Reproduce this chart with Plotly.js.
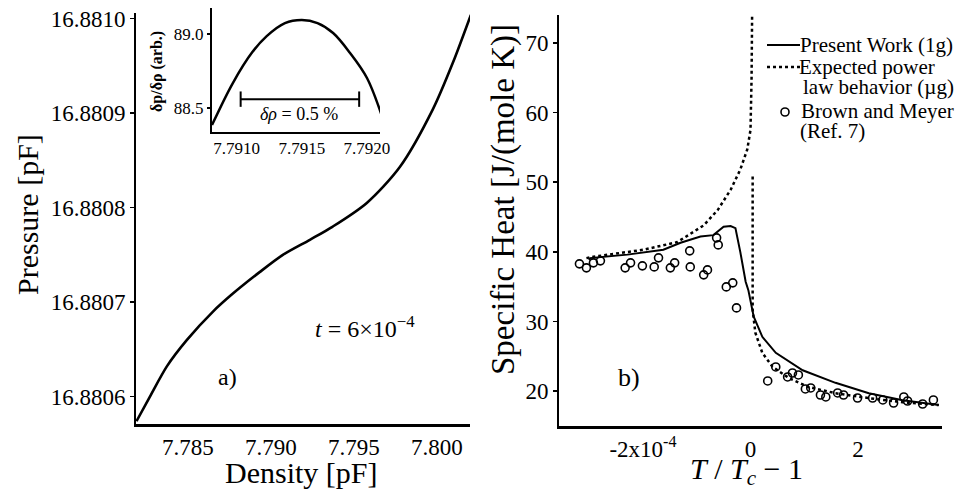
<!DOCTYPE html>
<html>
<head>
<meta charset="utf-8">
<script src="https://cdn.plot.ly/plotly-3.0.1.min.js"></script>
<style>html,body{margin:0;padding:0;background:#fff;}#chart{width:959px;height:493px;}</style>
</head>
<body>
<div id="chart"></div>
<script>
// ---- Panel a): pressure vs density isotherm ----
const densityX = [7.78190, 7.78271, 7.78373, 7.78494, 7.78651, 7.78771, 7.78934, 7.79072, 7.79235, 7.79373, 7.79578, 7.79777, 7.79976, 7.80096, 7.80205];
const pressureY = [16.880574, 16.880600, 16.880632, 16.880660, 16.880690, 16.880709, 16.880732, 16.880750, 16.880766, 16.880780, 16.880805, 16.880843, 16.880904, 16.880953, 16.881004];
const pressureTicks = [16.8806, 16.8807, 16.8808, 16.8809, 16.8810];
const densityTicks = [7.785, 7.790, 7.795, 7.800];

// ---- Inset: dp/drho ----
const insetX = [7.79081, 7.79097, 7.79112, 7.79123, 7.79137, 7.79150, 7.79162, 7.79174, 7.79187, 7.79200, 7.79212];
const insetY = [88.385, 88.669, 88.878, 88.986, 89.074, 89.095, 89.074, 89.007, 88.872, 88.703, 88.432];
const insetErrX = [7.79103, 7.79194];
const insetErrY = [88.56, 88.56];
const insetXTicks = [7.7910, 7.7915, 7.7920];
const insetYTicks = [88.5, 89.0];

// ---- Panel b): specific heat (x in units of 1e-4) ----
const presentX = [-3.00, -2.98, -2.29, -1.62, -1.30, -0.93, -0.69, -0.50, -0.37, -0.28, -0.19, -0.09, -0.04, 0.06, 0.22, 0.47, 0.97, 1.58, 2.20, 2.83, 3.50];
const presentY = [38.8, 39.1, 39.6, 40.3, 41.3, 42.2, 42.4, 43.6, 43.7, 43.4, 40.0, 35.7, 34.5, 30.7, 27.8, 25.5, 23.0, 21.2, 19.7, 18.7, 18.0];
const powerLeftX = [-3.05, -2.92, -1.99, -1.36, -0.87, -0.61, -0.37, -0.19, -0.06, 0.00, 0.02, 0.03];
const powerLeftY = [39.1, 39.3, 40.3, 41.4, 43.8, 46.0, 48.9, 51.8, 54.7, 57.5, 65.0, 74.0];
const powerRightX = [0.04, 0.04, 0.04, 0.09, 0.22, 0.41, 0.71, 1.08, 1.58, 2.20, 2.83, 3.50];
const powerRightY = [50.8, 41.7, 31.7, 28.4, 25.5, 23.5, 21.9, 20.6, 19.7, 19.0, 18.4, 18.0];
const brownX = [-3.18, -3.05, -2.92, -2.79, -2.33, -2.23, -2.01, -1.79, -1.71, -1.49, -1.41, -1.13, -1.12, -0.87, -0.80, -0.63, -0.60, -0.45, -0.33, -0.26, 0.32, 0.47, 0.69, 0.78, 0.89, 1.02, 1.12, 1.30, 1.40, 1.62, 1.73, 1.99, 2.27, 2.46, 2.66, 2.85, 2.92, 3.20, 3.40];
const brownY = [38.28, 37.70, 38.42, 38.71, 37.70, 38.42, 37.99, 37.84, 39.14, 37.70, 38.42, 40.14, 37.84, 36.70, 37.41, 42.01, 41.00, 34.97, 35.55, 31.95, 21.47, 23.48, 22.04, 22.61, 22.33, 20.32, 20.46, 19.45, 19.17, 19.74, 19.45, 19.02, 19.02, 18.74, 18.30, 19.17, 18.59, 18.16, 18.74];
const heatTicks = [20, 30, 40, 50, 60, 70];
const tTickVals = [-2, 0, 2];
const tTickText = ['-2x10<sup>-4</sup>', '0', '2'];

const legendLabels = ['Present Work (1g)', 'Expected power', 'law behavior (\u00b5g)', 'Brown and Meyer', '(Ref. 7)'];

const FONT = 'Liberation Serif, Times New Roman, serif';
const W = 959, H = 493;
const px = v => v / W;
const py = v => 1 - v / H;

const traces = [
  {x: densityX, y: pressureY, xaxis: 'x', yaxis: 'y', mode: 'lines', line: {color: '#000', width: 2.6, shape: 'spline', smoothing: 0.8}, hoverinfo: 'skip'},
  {x: insetX, y: insetY, xaxis: 'x2', yaxis: 'y2', mode: 'lines', line: {color: '#000', width: 2.5, shape: 'spline', smoothing: 1}, hoverinfo: 'skip'},
  {x: insetErrX, y: insetErrY, xaxis: 'x2', yaxis: 'y2', mode: 'lines+markers', line: {color: '#000', width: 2}, marker: {symbol: 'line-ns-open', size: 11, line: {color: '#000', width: 2}}, hoverinfo: 'skip'},
  {x: presentX, y: presentY, xaxis: 'x3', yaxis: 'y3', mode: 'lines', line: {color: '#000', width: 2}, hoverinfo: 'skip'},
  {x: powerLeftX, y: powerLeftY, xaxis: 'x3', yaxis: 'y3', mode: 'lines', line: {color: '#000', width: 2.5, dash: 'dot'}, hoverinfo: 'skip'},
  {x: powerRightX, y: powerRightY, xaxis: 'x3', yaxis: 'y3', mode: 'lines', line: {color: '#000', width: 2.5, dash: 'dot'}, hoverinfo: 'skip'},
  {x: brownX, y: brownY, xaxis: 'x3', yaxis: 'y3', mode: 'markers', marker: {symbol: 'circle-open', size: 8, color: '#000', line: {color: '#000', width: 1.6}}, hoverinfo: 'skip'}
];

const baseAxis = {showgrid: false, zeroline: false, showline: true, linecolor: '#000', automargin: false, color: '#000'};

const layout = {
  width: W, height: H, autosize: false,
  margin: {l: 0, r: 0, t: 0, b: 0, pad: 0},
  paper_bgcolor: '#fff', plot_bgcolor: 'rgba(0,0,0,0)',
  showlegend: false,
  font: {family: FONT, color: '#000'},
  xaxis: Object.assign({}, baseAxis, {domain: [px(136), px(470)], anchor: 'y', range: [7.78187, 7.8020], linewidth: 3, ticks: '', tickvals: densityTicks, tickformat: '.3f', tickfont: {size: 23, family: FONT}}),
  yaxis: Object.assign({}, baseAxis, {domain: [1 - 424 / H, 1 - 13 / H], anchor: 'x', range: [16.880571, 16.881006], linewidth: 2, ticks: 'outside', ticklen: 4, tickwidth: 1.5, tickcolor: '#000', tickvals: pressureTicks, tickformat: '.4f', tickfont: {size: 23, family: FONT}}),
  xaxis2: Object.assign({}, baseAxis, {domain: [px(212), px(380)], anchor: 'y2', range: [7.79081, 7.79210], linewidth: 2, ticks: '', tickvals: insetXTicks, tickformat: '.4f', tickfont: {size: 17, family: FONT}}),
  yaxis2: Object.assign({}, baseAxis, {domain: [1 - 132 / H, 1 - 8 / H], anchor: 'x2', range: [88.338, 89.176], linewidth: 2, ticks: 'outside', ticklen: 3, tickwidth: 1.5, tickcolor: '#000', tickvals: insetYTicks, tickformat: '.1f', tickfont: {size: 17, family: FONT}}),
  xaxis3: Object.assign({}, baseAxis, {domain: [px(559), px(942)], anchor: 'y3', range: [-3.56, 3.56], linewidth: 3, ticks: '', tickvals: tTickVals, ticktext: tTickText, tickfont: {size: 23, family: FONT}}),
  yaxis3: Object.assign({}, baseAxis, {domain: [1 - 426 / H, 1 - 15 / H], anchor: 'x3', range: [15, 74], linewidth: 2, ticks: 'outside', ticklen: 4, tickwidth: 1.5, tickcolor: '#000', tickvals: heatTicks, tickfont: {size: 23, family: FONT}}),
  shapes: [
    {type: 'line', xref: 'paper', yref: 'paper', x0: px(767), x1: px(800), y0: py(45), y1: py(45), line: {color: '#000', width: 2}},
    {type: 'line', xref: 'paper', yref: 'paper', x0: px(767), x1: px(800), y0: py(67), y1: py(67), line: {color: '#000', width: 2.5, dash: 'dot'}},
    {type: 'circle', xref: 'paper', yref: 'paper', x0: px(781), x1: px(789), y0: py(116), y1: py(108), line: {color: '#000', width: 1.6}}
  ],
  annotations: [
    {xref: 'paper', yref: 'paper', x: px(27), y: py(215), text: 'Pressure [pF]', textangle: -90, showarrow: false, font: {size: 30, family: FONT}, xanchor: 'center', yanchor: 'middle'},
    {xref: 'paper', yref: 'paper', x: px(301), y: py(472), text: 'Density [pF]', showarrow: false, font: {size: 30, family: FONT}, xanchor: 'center', yanchor: 'middle'},
    {xref: 'paper', yref: 'paper', x: px(503), y: py(200), text: 'Specific Heat [J/(mole K)]', textangle: -90, showarrow: false, font: {size: 33, family: FONT}, xanchor: 'center', yanchor: 'middle'},
    {xref: 'paper', yref: 'paper', x: px(746), y: py(471), text: '<i>T</i> / <i>T</i><sub><i>c</i></sub> \u2212 1', showarrow: false, font: {size: 30, family: FONT}, xanchor: 'center', yanchor: 'middle'},
    {xref: 'paper', yref: 'paper', x: px(157), y: py(72), text: '<b>\u03b4p/\u03b4\u03c1 (arb.)</b>', textangle: -90, showarrow: false, font: {size: 16, family: FONT}, xanchor: 'center', yanchor: 'middle'},
    {xref: 'x2', yref: 'y2', x: 7.79148, y: 88.46, text: '<i>\u03b4\u03c1</i> = 0.5 %', showarrow: false, font: {size: 18, family: FONT}, xanchor: 'center', yanchor: 'middle'},
    {xref: 'x', yref: 'y', x: 7.79566, y: 16.880674, text: '<i>t</i> = 6\u00d710<sup>\u22124</sup>', showarrow: false, font: {size: 24, family: FONT}, xanchor: 'center', yanchor: 'middle'},
    {xref: 'x', yref: 'y', x: 7.78741, y: 16.880621, text: 'a)', showarrow: false, font: {size: 24, family: FONT}, xanchor: 'center', yanchor: 'middle'},
    {xref: 'x3', yref: 'y3', x: -2.25, y: 22.0, text: 'b)', showarrow: false, font: {size: 26, family: FONT}, xanchor: 'center', yanchor: 'middle'},
    {xref: 'paper', yref: 'paper', x: px(798), y: py(45), text: legendLabels[0], showarrow: false, font: {size: 21, family: FONT}, xanchor: 'left', yanchor: 'middle'},
    {xref: 'paper', yref: 'paper', x: px(797), y: py(67), text: legendLabels[1], showarrow: false, font: {size: 21, family: FONT}, xanchor: 'left', yanchor: 'middle'},
    {xref: 'paper', yref: 'paper', x: px(801), y: py(87), text: legendLabels[2], showarrow: false, font: {size: 21, family: FONT}, xanchor: 'left', yanchor: 'middle'},
    {xref: 'paper', yref: 'paper', x: px(799), y: py(111), text: legendLabels[3], showarrow: false, font: {size: 21, family: FONT}, xanchor: 'left', yanchor: 'middle'},
    {xref: 'paper', yref: 'paper', x: px(798), y: py(131), text: legendLabels[4], showarrow: false, font: {size: 21, family: FONT}, xanchor: 'left', yanchor: 'middle'}
  ]
};

Plotly.newPlot('chart', traces, layout, {staticPlot: true, displayModeBar: false});
</script>
</body>
</html>
